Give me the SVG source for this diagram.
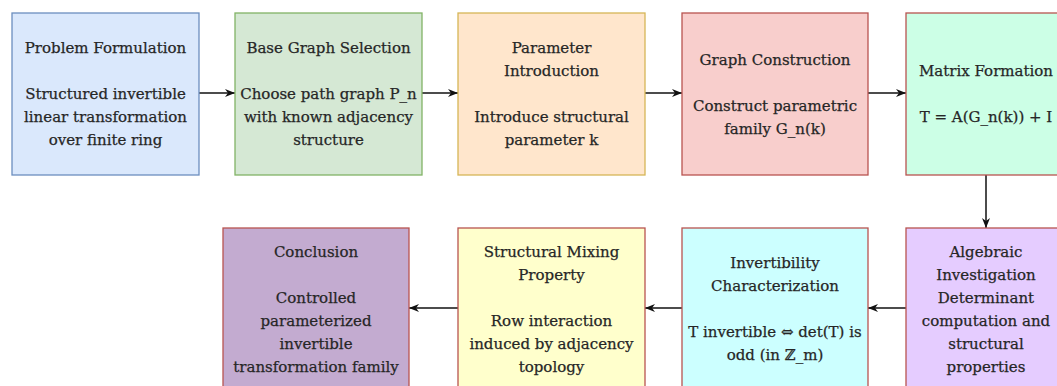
<svg xmlns="http://www.w3.org/2000/svg" width="1057" height="386" viewBox="0 0 1057 386">
<style>
.box{stroke-width:1.3}
.t{font-family:"DejaVu Serif","Liberation Serif",serif;font-size:15px;fill:#262626;stroke:#262626;stroke-width:0.25;text-anchor:middle}
.c{stroke:#111;stroke-width:1.5;fill:none}
</style>
<defs>
<marker id="ah" viewBox="0 0 10 8" refX="10" refY="4" markerWidth="10" markerHeight="8" markerUnits="userSpaceOnUse" orient="auto">
<path d="M0,0 L10,4 L0,8 L3,4 z" fill="#111"/>
</marker>
</defs>
<rect width="1057" height="386" fill="#ffffff"/>
<g id="connectors">
<line class="c" x1="199" y1="93" x2="235" y2="93" marker-end="url(#ah)"/>
<line class="c" x1="422" y1="93" x2="458" y2="93" marker-end="url(#ah)"/>
<line class="c" x1="645" y1="93" x2="682" y2="93" marker-end="url(#ah)"/>
<line class="c" x1="868" y1="93" x2="906" y2="93" marker-end="url(#ah)"/>
<line class="c" x1="986" y1="175" x2="986" y2="228" marker-end="url(#ah)"/>
<line class="c" x1="906" y1="308" x2="868" y2="308" marker-end="url(#ah)"/>
<line class="c" x1="682" y1="308" x2="645" y2="308" marker-end="url(#ah)"/>
<line class="c" x1="458" y1="308" x2="409" y2="308" marker-end="url(#ah)"/>
</g>
<g id="problem">
<rect class="box" x="12" y="13" width="187" height="162" fill="#dae8fc" stroke="#6c8ebf"/>
<text class="t" x="105.5" y="53">Problem Formulation</text>
<text class="t" x="105.5" y="99">Structured invertible</text>
<text class="t" x="105.5" y="122">linear transformation</text>
<text class="t" x="105.5" y="145">over finite ring</text>
</g>
<g id="base">
<rect class="box" x="235" y="13" width="187" height="162" fill="#d5e8d4" stroke="#82b366"/>
<text class="t" x="328.5" y="53">Base Graph Selection</text>
<text class="t" x="328.5" y="99">Choose path graph P_n</text>
<text class="t" x="328.5" y="122">with known adjacency</text>
<text class="t" x="328.5" y="145">structure</text>
</g>
<g id="param">
<rect class="box" x="458" y="13" width="187" height="162" fill="#ffe6cc" stroke="#d6b656"/>
<text class="t" x="551.5" y="53">Parameter</text>
<text class="t" x="551.5" y="76">Introduction</text>
<text class="t" x="551.5" y="122">Introduce structural</text>
<text class="t" x="551.5" y="145">parameter k</text>
</g>
<g id="graph">
<rect class="box" x="682" y="13" width="186" height="162" fill="#f8cecc" stroke="#b85450"/>
<text class="t" x="775" y="64.7">Graph Construction</text>
<text class="t" x="775" y="110.7">Construct parametric</text>
<text class="t" x="775" y="133.7">family G_n(k)</text>
</g>
<g id="matrix">
<rect class="box" x="906" y="13" width="160" height="162" fill="#ccffe6" stroke="#b85450"/>
<text class="t" x="986" y="76">Matrix Formation</text>
<text class="t" x="986" y="122">T = A(G_n(k)) + I</text>
</g>
<g id="algebraic">
<rect class="box" x="906" y="228" width="160" height="162" fill="#e5ccff" stroke="#b85450"/>
<text class="t" x="986" y="256.7">Algebraic</text>
<text class="t" x="986" y="279.7">Investigation</text>
<text class="t" x="986" y="302.7">Determinant</text>
<text class="t" x="986" y="325.7">computation and</text>
<text class="t" x="986" y="348.7">structural</text>
<text class="t" x="986" y="371.7">properties</text>
</g>
<g id="invertibility">
<rect class="box" x="682" y="228" width="186" height="162" fill="#ccffff" stroke="#b85450"/>
<text class="t" x="775" y="268.2">Invertibility</text>
<text class="t" x="775" y="291.2">Characterization</text>
<text class="t" x="775" y="337.2">T invertible ⇔ det(T) is</text>
<text class="t" x="775" y="360.2">odd (in ℤ_m)</text>
</g>
<g id="mixing">
<rect class="box" x="458" y="228" width="187" height="162" fill="#ffffcc" stroke="#b85450"/>
<text class="t" x="551.5" y="256.7">Structural Mixing</text>
<text class="t" x="551.5" y="279.7">Property</text>
<text class="t" x="551.5" y="325.7">Row interaction</text>
<text class="t" x="551.5" y="348.7">induced by adjacency</text>
<text class="t" x="551.5" y="371.7">topology</text>
</g>
<g id="conclusion">
<rect class="box" x="223" y="228" width="186" height="162" fill="#c3abd0" stroke="#b85450"/>
<text class="t" x="316" y="256.7">Conclusion</text>
<text class="t" x="316" y="302.7">Controlled</text>
<text class="t" x="316" y="325.7">parameterized</text>
<text class="t" x="316" y="348.7">invertible</text>
<text class="t" x="316" y="371.7">transformation family</text>
</g>
</svg>
